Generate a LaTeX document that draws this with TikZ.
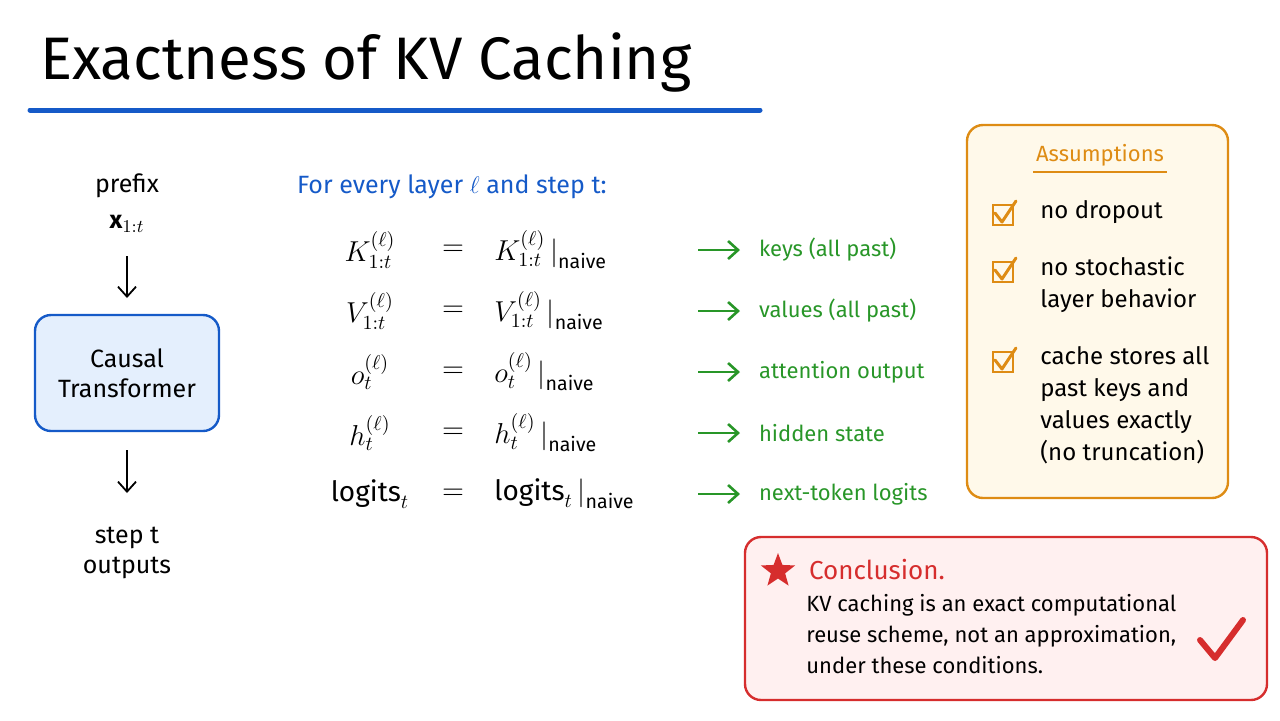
\documentclass[tikz,border=0pt]{standalone}
\usepackage{fontspec}
\setmainfont{Fira Sans}
\usetikzlibrary{shapes.geometric,arrows.meta}
\definecolor{titleblue}{RGB}{21,90,200}
\definecolor{boxblue}{RGB}{228,239,253}
\definecolor{eqgreen}{RGB}{40,150,40}
\definecolor{asorange}{RGB}{222,140,20}
\definecolor{ascream}{RGB}{255,249,234}
\definecolor{conred}{RGB}{214,45,45}
\definecolor{conpink}{RGB}{255,240,240}
\tikzset{
  txt/.style={font=\fontsize{12.5}{15}\selectfont, align=center},
  eq/.style={font=\fontsize{14}{16}\selectfont},
  note/.style={font=\fontsize{11}{13}\selectfont, text=eqgreen, anchor=west},
  item/.style={font=\fontsize{12}{16}\selectfont, anchor=north west, align=left, inner sep=0pt},
  down/.style={-{Straight Barb[length=5pt,width=9pt]}, line width=0.9pt},
  garrow/.style={-{Straight Barb[length=5pt,width=9pt]}, line width=1.3pt, eqgreen},
  checkbox/.style={draw=asorange, line width=1.2pt, minimum size=10pt, inner sep=0pt}
}
\begin{document}
\begin{tikzpicture}[x=0.5pt,y=-0.5pt]
  \useasboundingbox (0,0) rectangle (1280,720);
  % Title
  \node[anchor=west, font=\fontsize{30}{34}\selectfont, inner sep=0pt] (title) at (40,62) {Exactness of KV Caching};
  \draw[titleblue, line width=2.5pt, line cap=round] (30,110) -- (760,110);

  % Left pipeline
  \node[txt] (prefix) at (127,186) {prefix};
  \node[txt] (xin) at (127,224) {$\mathbf{x}_{1:t}$};
  \node[txt, draw=titleblue, line width=1.2pt, fill=boxblue, rounded corners=8pt,
        minimum width=92pt, minimum height=58pt] (model) at (127,373) {Causal\\Transformer};
  \node[txt] (out) at (127,553) {step t\\outputs};
  \coordinate (a1) at (127,256);
  \coordinate (a2) at (127,298);
  \coordinate (b1) at (127,450);
  \coordinate (b2) at (127,493);
  \draw[down] (a1) -- (a2);
  \draw[down] (b1) -- (b2);

  % Equations
  \node[anchor=west, font=\fontsize{12.5}{15}\selectfont, text=titleblue] (head) at (290,187) {For every layer $\ell$ and step t:};
  \foreach \lhs/\rhs/\lab [count=\i] in {
      {K^{(\ell)}_{1:t}}/{K^{(\ell)}_{1:t}}/{keys (all past)},
      {V^{(\ell)}_{1:t}}/{V^{(\ell)}_{1:t}}/{values (all past)},
      {o^{(\ell)}_{t}}/{o^{(\ell)}_{t}}/{attention output},
      {h^{(\ell)}_{t}}/{h^{(\ell)}_{t}}/{hidden state},
      {\mathrm{logits}_t}/{\mathrm{logits}_t}/{next-token logits}} {
    \pgfmathsetmacro{\yy}{250+61*(\i-1)}
    \node[eq] (lhs\i) at (370,\yy) {$\lhs$};
    \node[eq] (eqs\i) at (453,\yy) {$=$};
    \node[eq, anchor=west, inner sep=1pt] (rhs\i) at (492,\yy) {$\rhs\,\big|_{\mathrm{naive}}$};
    \node[note] (lab\i) at (752,\yy) {\lab};
    \coordinate (g\i) at (698,\yy);
    \draw[garrow] (g\i) -- ++(42,0);
  }

  % Assumptions
  \draw[asorange, line width=1.2pt, fill=ascream, rounded corners=8pt] (967,125) rectangle (1228,498);
  \node[font=\fontsize{11}{13}\selectfont, text=asorange] (astitle) at (1100,155) {Assumptions};
  \draw[asorange, line width=0.8pt] (1033,172) -- (1167,172);
  \foreach \yy [count=\i] in {215,272,362} {
    \node[checkbox] (cb\i) at (1003,\yy) {};
    \draw[asorange, line width=1.5pt, line cap=round, line join=round]
      (995,\yy-2) -- (1002,\yy+7) -- (1016,\yy-14);
  }
  \node[item] (as1) at (1040,200) {no dropout};
  \node[item] (as2) at (1040,256) {no stochastic\\layer behavior};
  \node[item] (as3) at (1040,346) {cache stores all\\past keys and\\values exactly\\(no truncation)};

  % Conclusion
  \draw[conred, line width=1.2pt, fill=conpink, rounded corners=8pt] (745,537) rectangle (1267,700);
  \node[star, star points=5, star point ratio=2.4, fill=conred, minimum size=18pt, inner sep=0pt] (star) at (778,571) {};
  \node[anchor=west, font=\fontsize{13}{15}\selectfont, text=conred] (contitle) at (802,570) {Conclusion.};
  \node[item, font=\fontsize{11}{15.5}\selectfont] (context) at (806,594) {KV caching is an exact computational\\reuse scheme, not an approximation,\\under these conditions.};
  \draw[conred, line width=3pt, line cap=round, line join=round] (1200,640) -- (1215,658) -- (1243,620);
\end{tikzpicture}
\end{document}
